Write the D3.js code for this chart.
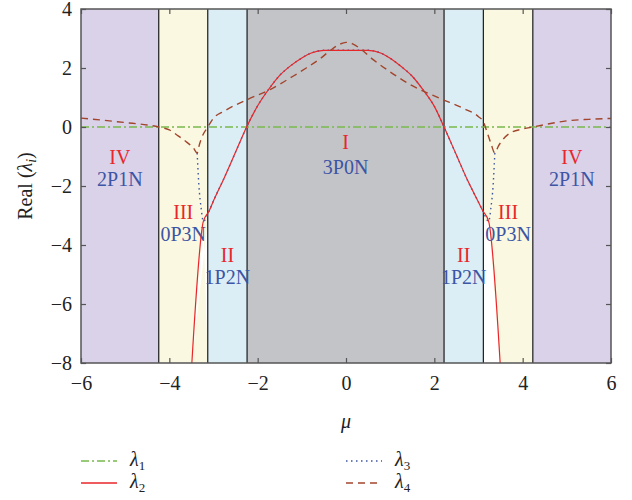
<!DOCTYPE html>
<html>
<head>
<meta charset="utf-8">
<script src="https://cdn.jsdelivr.net/npm/d3@7"></script>
<style>
  body { margin: 0; background: white; }
  svg text { font-family: "Liberation Serif", "Times New Roman", Times, "DejaVu Serif", "Noto Serif", serif; }
</style>
</head>
<body>
<div id="container"></div>
<script>
// colors
let red = "#e8262a";
let blue = "#3c55a5";
let green = "#78b94c";
let brown = "#a3452c";
let serif = "'Liberation Serif', 'Times New Roman', Times, 'DejaVu Serif', serif";

// regions along mu
let regionEdges = [-6, -4.24, -3.13, -2.24, 2.22, 3.11, 4.23, 6];
let regionNames = ["IV", "III", "II", "I", "II", "III", "IV"];
let regionTypes = ["2P1N", "0P3N", "1P2N", "3P0N", "1P2N", "0P3N", "2P1N"];

// lambda_1 (green dash-dot)
let mu1 = [-6, 6];
let lam1 = [0, 0];

// lambda_2 (red solid)
let mu2 = [-3.49, -3.23, -3.1, -3.0, -2.75, -2.5, -2.25, -2.0, -1.75, -1.5, -1.25, -1.0, -0.8, -0.5, 0,
           0.5, 0.8, 1.0, 1.25, 1.5, 1.75, 2.0, 2.22, 2.5, 2.75, 3.0, 3.1, 3.23, 3.49];
let lam2 = [-8, -3.2, -2.85, -2.5, -1.7, -0.85, 0, 0.72, 1.28, 1.75, 2.08, 2.34, 2.5, 2.6, 2.6,
            2.6, 2.5, 2.33, 2.05, 1.72, 1.25, 0.7, 0, -0.95, -1.8, -2.55, -2.85, -3.2, -8];

// lambda_3 (blue dotted)
let mu3 = [-3.37, -3.33, -3.28, -3.23, -3.1, -3.0, -2.75, -2.5, -2.25, -2.0, -1.75, -1.5, -1.25, -1.0, -0.8, -0.5, 0,
           0.5, 0.8, 1.0, 1.25, 1.5, 1.75, 2.0, 2.22, 2.5, 2.75, 3.0, 3.1, 3.23, 3.28, 3.33, 3.37];
let lam3 = [-0.88, -2.0, -2.75, -3.2, -2.85, -2.5, -1.7, -0.85, 0, 0.72, 1.28, 1.75, 2.08, 2.34, 2.5, 2.6, 2.6,
            2.6, 2.5, 2.33, 2.05, 1.72, 1.25, 0.7, 0, -0.95, -1.8, -2.55, -2.85, -3.2, -2.75, -2.0, -0.88];

// lambda_4 (brown dashed)
let mu4 = [-6, -5.5, -5, -4.5, -4.24, -4.0, -3.8, -3.6, -3.45, -3.37, -3.32, -3.25, -3.13, -3.0, -2.78, -2.25, -1.72,
           -1.2, -0.9, -0.6, -0.35, -0.15, 0, 0.15, 0.35, 0.6, 0.92, 1.5, 2.13, 2.66, 3.0, 3.11, 3.2, 3.28, 3.37,
           3.45, 3.71, 4.0, 4.23, 4.5, 5.07, 5.5, 6];
let lam4 = [0.3, 0.23, 0.15, 0.07, 0, -0.1, -0.3, -0.52, -0.72, -0.88, -0.6, -0.3, 0, 0.3, 0.52, 0.92, 1.27,
            1.72, 2.0, 2.3, 2.6, 2.8, 2.87, 2.82, 2.62, 2.3, 1.95, 1.4, 0.97, 0.63, 0.35, 0.18, -0.2, -0.55, -0.88,
            -0.65, -0.21, -0.07, 0, 0.08, 0.22, 0.26, 0.29];

let xTicks = [-6, -4, -2, 0, 2, 4, 6];
let yTicks = [-8, -6, -4, -2, 0, 2, 4];

let zip = (m, v) => m.map((d, i) => [d, v[i]]);

let regionFill = { "IV": "#d9d2e9", "III": "#faf8e0", "II": "#dbeef6", "I": "#c3c4c8" };
let labelBase = { "IV": [164, 186], "III": [219, 241], "II": [262, 284], "I": [149, 174] };

let viz = d3.select("#container")
  .append("svg")
    .attr("width", 632)
    .attr("height", 500)
    .attr("font-family", serif)
;

let x = d3.scaleLinear().domain([-6, 6]).range([81, 611]);
let y = d3.scaleLinear().domain([-8, 4]).range([363, 9]);

// region backgrounds
viz.selectAll("rect.region")
  .data(regionNames)
  .enter()
  .append("rect")
    .attr("class", "region")
    .attr("x", (d, i) => x(regionEdges[i]))
    .attr("y", y(4))
    .attr("width", (d, i) => x(regionEdges[i + 1]) - x(regionEdges[i]))
    .attr("height", y(-8) - y(4))
    .attr("fill", d => regionFill[d])
;

// white strips between lambda_2 and region III inner edges
let pts2 = zip(mu2, lam2);
let leftStrip = pts2.filter(d => d[0] <= -3.23);
let rightStrip = pts2.filter(d => d[0] >= 3.23);
let stripPoly = (pts, edge) => {
  let p = pts.map(d => [x(d[0]), y(d[1])]);
  p.push([x(edge), y(-8)]);
  p.push([x(edge), y(pts.find(d => d[1] > -8)[1])]);
  return p;
};
viz.append("polygon")
  .attr("points", stripPoly(leftStrip, -3.13).join(" "))
  .attr("fill", "white")
;
viz.append("polygon")
  .attr("points", stripPoly(rightStrip, 3.11).join(" "))
  .attr("fill", "white")
;

// region boundaries
viz.selectAll("line.edge")
  .data(regionEdges.slice(1, -1))
  .enter()
  .append("line")
    .attr("x1", d => x(d))
    .attr("x2", d => x(d))
    .attr("y1", y(4))
    .attr("y2", y(-8))
    .attr("stroke", "#1a1a1a")
    .attr("stroke-width", 1.2)
;

// region labels
regionNames.forEach((name, i) => {
  let cx = (x(regionEdges[i]) + x(regionEdges[i + 1])) / 2;
  viz.append("text")
    .text(name)
    .attr("x", cx)
    .attr("y", labelBase[name][0])
    .attr("text-anchor", "middle")
    .attr("font-size", 20)
    .attr("fill", red)
  ;
  viz.append("text")
    .text(regionTypes[i])
    .attr("x", cx)
    .attr("y", labelBase[name][1])
    .attr("text-anchor", "middle")
    .attr("font-size", 20)
    .attr("fill", blue)
  ;
});

let line = d3.line()
  .x(d => x(d[0]))
  .y(d => y(d[1]))
  .curve(d3.curveMonotoneX)
;

let plot = viz.append("g");

plot.append("path")
  .attr("d", line(zip(mu1, lam1)))
  .attr("fill", "none")
  .attr("stroke", green)
  .attr("stroke-width", 1.3)
  .attr("stroke-dasharray", "8,3,2,3")
;
plot.append("path")
  .attr("d", line(zip(mu3, lam3)))
  .attr("fill", "none")
  .attr("stroke", blue)
  .attr("stroke-width", 1.4)
  .attr("stroke-dasharray", "1.5,3.5")
;
plot.append("path")
  .attr("d", line(pts2))
  .attr("fill", "none")
  .attr("stroke", red)
  .attr("stroke-width", 1.2)
;
plot.append("path")
  .attr("d", line(zip(mu4, lam4)))
  .attr("fill", "none")
  .attr("stroke", brown)
  .attr("stroke-width", 1.4)
  .attr("stroke-dasharray", "7,5")
;

// frame and ticks
viz.append("rect")
  .attr("x", x(-6))
  .attr("y", y(4))
  .attr("width", x(6) - x(-6))
  .attr("height", y(-8) - y(4))
  .attr("fill", "none")
  .attr("stroke", "#555")
  .attr("stroke-width", 1.5)
;

let styleAxis = g => {
  g.attr("font-family", serif);
  g.select(".domain").remove();
  g.selectAll(".tick line").attr("stroke", "#555").attr("stroke-width", 1.2);
  g.selectAll(".tick text")
    .attr("font-size", 20)
    .attr("fill", "#222");
};

viz.append("g")
  .attr("transform", `translate(0,${y(-8)})`)
  .call(d3.axisBottom(x).tickValues(xTicks).tickSizeInner(-5).tickSizeOuter(0).tickPadding(13))
  .call(styleAxis)
;
viz.append("g")
  .attr("transform", `translate(0,${y(4)})`)
  .call(d3.axisTop(x).tickValues(xTicks).tickSizeInner(-5).tickSizeOuter(0).tickFormat(""))
  .call(styleAxis)
;
viz.append("g")
  .attr("transform", `translate(${x(-6)},0)`)
  .call(d3.axisLeft(y).tickValues(yTicks).tickSizeInner(-5).tickSizeOuter(0).tickPadding(9))
  .call(styleAxis)
;
viz.append("g")
  .attr("transform", `translate(${x(6)},0)`)
  .call(d3.axisRight(y).tickValues(yTicks).tickSizeInner(-5).tickSizeOuter(0).tickFormat(""))
  .call(styleAxis)
;

// axis titles
viz.append("text")
  .text("μ")
  .attr("x", x(0))
  .attr("y", 428)
  .attr("text-anchor", "middle")
  .attr("font-size", 20)
  .attr("font-style", "italic")
  .attr("fill", "#222")
;

let yTitle = viz.append("text")
  .attr("transform", `translate(32,${(y(4) + y(-8)) / 2}) rotate(-90)`)
  .attr("text-anchor", "middle")
  .attr("font-size", 20)
  .attr("fill", "#222")
;
yTitle.append("tspan").text("Real (");
yTitle.append("tspan").text("λ").attr("font-style", "italic");
yTitle.append("tspan").text("i").attr("font-style", "italic").attr("font-size", 14).attr("dy", 4);
yTitle.append("tspan").text(")").attr("dy", -4);

// legend
let legendItems = [
  { name: "1", color: green, dash: "8,3,2,3", lx: 81, ly: 461 },
  { name: "2", color: red, dash: null, lx: 81, ly: 483 },
  { name: "3", color: blue, dash: "1.5,3.5", lx: 346, ly: 461 },
  { name: "4", color: brown, dash: "7,5", lx: 346, ly: 483 }
];
legendItems.forEach(d => {
  viz.append("line")
    .attr("x1", d.lx)
    .attr("x2", d.lx + 36)
    .attr("y1", d.ly)
    .attr("y2", d.ly)
    .attr("stroke", d.color)
    .attr("stroke-width", 1.4)
    .attr("stroke-dasharray", d.dash)
  ;
  let t = viz.append("text")
    .attr("x", d.lx + 49)
    .attr("y", d.ly + 5)
    .attr("font-size", 20)
    .attr("fill", "#222")
  ;
  t.append("tspan").text("λ").attr("font-style", "italic");
  t.append("tspan").text(d.name).attr("font-size", 13).attr("dy", 4);
});
</script>
</body>
</html>
